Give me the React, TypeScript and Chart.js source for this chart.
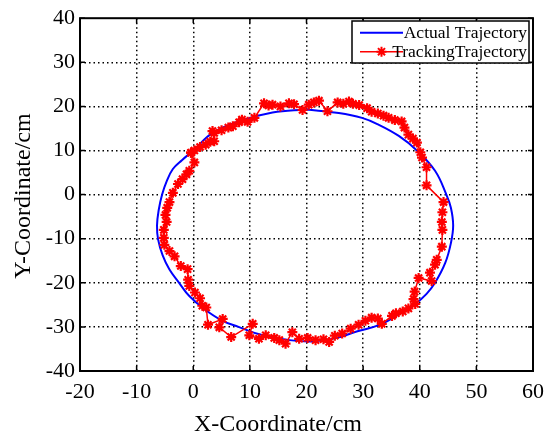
import React, { useEffect, useRef } from "react";
import { Chart, registerables } from "chart.js";

Chart.register(...registerables);

const xTicks = [-20, -10, 0, 10, 20, 30, 40, 50, 60];
const yTicks = [-40, -30, -20, -10, 0, 10, 20, 30, 40];

const actualX = [20, 14, 8, 3.4, 0, -2.0, -3.6, -4.7, -5.5, -6.1, -6.4, -6.2, -5.4, -4.2, -2.5, -0.7, 2.0, 5.0, 8.0, 12.0, 17.0, 21.0, 25.0, 29.0, 33.0, 36.5, 39.2, 41.2, 42.7, 44.5, 45.5, 45.9, 45.5, 44.7, 42.7, 39.5, 36.3, 32.5, 29.8, 25.7, 20];
const actualY = [19.3, 18.6, 16.6, 14.0, 10.0, 7.8, 5.8, 3.0, 0, -3.5, -7, -10.2, -13.8, -17, -20, -23, -26, -28.5, -30, -31.8, -33, -33.3, -32.6, -31, -29.5, -27, -24.8, -22.5, -20, -15.5, -11, -7, -3, 0, 5.4, 10, 13.3, 16, 17.4, 18.5, 19.3];

const trackX = [-0.4, 0.2, 1.2, 2.2, 3.0, 3.7, 3.4, 3.7, 5.0, 6.2, 7.0, 8.1, 8.6, 9.6, 10.8, 12.5, 13.3, 14.0, 15.4, 16.9, 17.8, 19.3, 20.4, 21.3, 22.2, 23.7, 25.5, 26.5, 27.5, 28.2, 29.3, 30.7, 31.5, 32.6, 33.6, 34.5, 35.6, 36.8, 37.3, 38.0, 38.8, 39.5, 40.1, 40.4, 41.2, 41.2, 44.2, 44.0, 43.9, 44.0, 43.9, 43.0, 42.7, 41.8, 42.1, 39.8, 39.1, 38.9, 39.2, 38.0, 37.0, 35.8, 35.1, 33.3, 32.6, 31.5, 30.4, 29.2, 27.8, 26.3, 25.0, 24.0, 23.0, 21.6, 20.2, 18.7, 17.5, 16.3, 15.2, 14.3, 12.8, 11.6, 9.9, 10.5, 6.7, 4.6, 5.2, 2.6, 2.3, 1.6, 1.2, 0.3, -0.7, -0.9, -1.0, -2.2, -3.3, -4.2, -5.1, -5.2, -5.2, -4.7, -4.9, -4.6, -4.2, -3.6, -2.7, -1.9, -1.2, -0.7, 0.2, -0.4];
const trackY = [9.5, 10.0, 10.8, 11.3, 12.0, 12.1, 14.4, 14.0, 14.6, 15.2, 15.5, 16.4, 17.0, 16.5, 17.4, 20.7, 20.2, 20.4, 20.0, 20.7, 20.5, 19.2, 20.4, 20.9, 21.3, 18.9, 20.9, 20.6, 21.1, 20.6, 20.3, 19.6, 18.8, 18.4, 17.9, 17.4, 16.9, 16.6, 15.2, 13.6, 12.7, 11.8, 9.6, 8.4, 6.2, 2.1, -1.7, -4.0, -6.2, -8.0, -11.8, -14.8, -15.9, -17.7, -19.6, -18.9, -22.0, -23.7, -24.8, -25.8, -26.5, -26.9, -27.5, -29.3, -28.1, -27.9, -28.6, -29.5, -30.4, -31.5, -32.0, -33.4, -32.8, -33.0, -32.5, -32.7, -31.2, -33.8, -33.0, -32.5, -31.9, -32.7, -31.9, -29.3, -32.3, -30.1, -28.2, -29.5, -25.6, -25.2, -23.5, -22.2, -20.7, -19.3, -16.9, -16.2, -14.0, -12.8, -11.4, -9.8, -8.0, -6.2, -4.6, -3.0, -1.7, 0.4, 2.4, 3.5, 4.6, 5.4, 7.3, 9.5];

const seriesNames = ["Actual Trajectory", "TrackingTrajectory"];
const xTitle = "X-Coordinate/cm";
const yTitle = "Y-Coordinate/cm";

const FONT = "'Liberation Serif', 'Times New Roman', serif";

const framePlugin = {
  id: "frame",
  afterDraw(chart: any) {
    const { ctx, chartArea } = chart;
    const { left, right, top, bottom } = chartArea;
    const xs = chart.scales.x;
    const ys = chart.scales.y;
    ctx.save();
    ctx.strokeStyle = "#000";
    ctx.lineWidth = 2;
    ctx.setLineDash([]);
    ctx.strokeRect(left, top, right - left, bottom - top);
    ctx.lineWidth = 1.5;
    const tl = 5;
    ctx.beginPath();
    xTicks.forEach((v) => {
      const px = xs.getPixelForValue(v);
      ctx.moveTo(px, bottom);
      ctx.lineTo(px, bottom - tl);
      ctx.moveTo(px, top);
      ctx.lineTo(px, top + tl);
    });
    yTicks.forEach((v) => {
      const py = ys.getPixelForValue(v);
      ctx.moveTo(left, py);
      ctx.lineTo(left + tl, py);
      ctx.moveTo(right, py);
      ctx.lineTo(right - tl, py);
    });
    ctx.stroke();

    // axis titles
    ctx.fillStyle = "#000";
    ctx.font = `24px ${FONT}`;
    ctx.textAlign = "center";
    ctx.textBaseline = "alphabetic";
    ctx.fillText(xTitle, 278, 431);
    ctx.save();
    ctx.translate(30, 196);
    ctx.rotate(-Math.PI / 2);
    ctx.fillText(yTitle, 0, 0);
    ctx.restore();

    // legend
    const lx = 352, ly = 21, lw = 177, lh = 42;
    ctx.fillStyle = "#fff";
    ctx.fillRect(lx, ly, lw, lh);
    ctx.strokeStyle = "#000";
    ctx.lineWidth = 1.5;
    ctx.strokeRect(lx, ly, lw, lh);
    const rows = [32.7, 51.7];
    const colors = ["#0000ff", "#ff0000"];
    rows.forEach((ry, i) => {
      ctx.strokeStyle = colors[i];
      ctx.lineWidth = i === 0 ? 2 : 1.5;
      ctx.beginPath();
      ctx.moveTo(360, ry);
      ctx.lineTo(403, ry);
      ctx.stroke();
    });
    ctx.font = `17.5px ${FONT}`;
    ctx.fillStyle = "#000";
    ctx.textAlign = "right";
    ctx.textBaseline = "middle";
    ctx.fillText(seriesNames[0], 527, rows[0] + 1);
    ctx.fillText(seriesNames[1], 527, rows[1] + 1);
    // legend marker (star)
    ctx.strokeStyle = "#ff0000";
    ctx.lineWidth = 2;
    const cx = 381.5, cy = rows[1], r = 5;
    ctx.beginPath();
    ctx.moveTo(cx - r, cy); ctx.lineTo(cx + r, cy);
    ctx.moveTo(cx, cy - r); ctx.lineTo(cx, cy + r);
    const d = r * 0.707;
    ctx.moveTo(cx - d, cy - d); ctx.lineTo(cx + d, cy + d);
    ctx.moveTo(cx - d, cy + d); ctx.lineTo(cx + d, cy - d);
    ctx.stroke();
    ctx.restore();
  },
};

export default function App() {
  const ref = useRef<HTMLCanvasElement | null>(null);
  useEffect(() => {
    if (!ref.current) return;
    const actual = actualX.map((x, i) => ({ x, y: actualY[i] }));
    const track = trackX.map((x, i) => ({ x, y: trackY[i] }));
    const gridColor = (min: number, max: number) => (c: any) =>
      c.tick && (c.tick.value === min || c.tick.value === max) ? "rgba(0,0,0,0)" : "#000";
    const chart = new Chart(ref.current, {
      type: "scatter",
      data: {
        datasets: [
          {
            label: seriesNames[1],
            data: track,
            showLine: true,
            borderColor: "#ff0000",
            backgroundColor: "#ff0000",
            borderWidth: 1.5,
            pointStyle: "star",
            pointRadius: 5,
            pointBorderWidth: 2.2,
            pointBorderColor: "#ff0000",
            tension: 0,
          },
          {
            label: seriesNames[0],
            data: actual,
            showLine: true,
            borderColor: "#0000ff",
            backgroundColor: "#0000ff",
            borderWidth: 2,
            pointRadius: 0,
            tension: 0.4,
          },
        ],
      },
      options: {
        responsive: false,
        animation: false,
        devicePixelRatio: 1,
        layout: { padding: { left: 0, right: 17, top: 14, bottom: 0 } },
        plugins: { legend: { display: false }, tooltip: { enabled: false } },
        scales: {
          x: {
            type: "linear",
            min: -20,
            max: 60,
            afterFit: (s: any) => { s.height = 66; },
            afterBuildTicks: (s: any) => { s.ticks = xTicks.map((v) => ({ value: v })); },
            ticks: { color: "#000", font: { family: FONT, size: 22 }, padding: 8, maxRotation: 0 },
            grid: { color: gridColor(-20, 60), lineWidth: 1.5, drawTicks: false },
            border: { display: false, dash: [1.5, 3] },
          },
          y: {
            type: "linear",
            min: -40,
            max: 40,
            afterFit: (s: any) => { s.width = 80; },
            afterBuildTicks: (s: any) => { s.ticks = yTicks.map((v) => ({ value: v })); },
            ticks: { color: "#000", font: { family: FONT, size: 22 }, padding: 5 },
            grid: { color: gridColor(-40, 40), lineWidth: 1.5, drawTicks: false },
            border: { display: false, dash: [1.5, 3] },
          },
        },
      },
      plugins: [framePlugin],
    });
    return () => chart.destroy();
  }, []);
  return (
    <div style={{ position: "fixed", left: 0, top: 0, width: 552, height: 437, background: "#fff" }}>
      <canvas ref={ref} width={552} height={437} style={{ width: 552, height: 437, display: "block" }} />
    </div>
  );
}
